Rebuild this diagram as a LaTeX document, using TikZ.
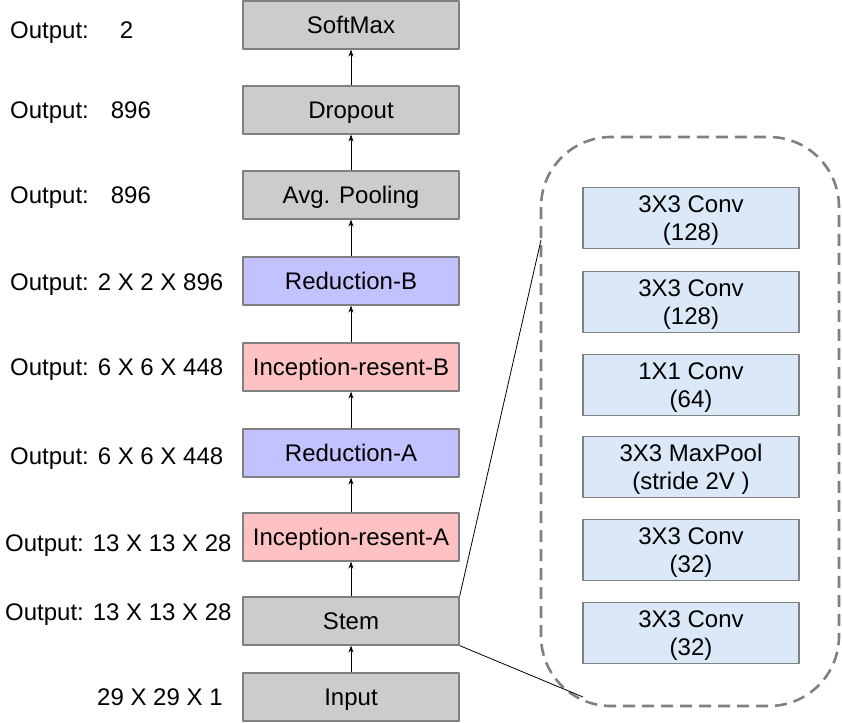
\documentclass[tikz,border=0pt]{standalone}
\usepackage{fontspec}
\setmainfont{Liberation Sans}
\usetikzlibrary{arrows.meta}
\definecolor{blkgray}{RGB}{204,204,204}
\definecolor{redblue}{RGB}{194,194,255}
\definecolor{incpink}{RGB}{255,194,194}
\definecolor{convblue}{RGB}{218,232,248}
\definecolor{edgegray}{RGB}{128,128,128}
\begin{document}
\begin{tikzpicture}[x=1pt, y=-1pt, font=\fontsize{24}{28}\selectfont, line join=round, >={Stealth[length=7pt,width=5pt]},
		layer/.style={draw=edgegray, line width=1.2pt, minimum width=216pt, minimum height=48pt, inner sep=0pt, text height=17pt, text depth=0pt},
		inner/.style={layer, fill=convblue, minimum height=61pt, align=center, text height=, text depth=0pt},
		lbl/.style={anchor=west, inner sep=0pt, text height=17pt, text depth=0pt}]
			\useasboundingbox (0,0) rectangle (842,722);
			\def\colx{351}
			\def\subx{691}
			% main column
			\node[layer, fill=blkgray] (softmax) at (\colx,25) {SoftMax};
			\node[layer, fill=blkgray] (dropout) at (\colx,110) {Dropout};
			\node[layer, fill=blkgray] (avgpool) at (\colx,195) {Avg. Pooling};
			\node[layer, fill=redblue] (redB) at (\colx,281) {Reduction-B};
			\node[layer, fill=incpink] (incB) at (\colx,367) {Inception-resent-B};
			\node[layer, fill=redblue] (redA) at (\colx,453) {Reduction-A};
			\node[layer, fill=incpink] (incA) at (\colx,537) {Inception-resent-A};
			\node[layer, fill=blkgray] (stem) at (\colx,621) {Stem};
			\node[layer, fill=blkgray] (inp) at (\colx,697) {Input};
			\foreach \a/\b in {inp/stem, stem/incA, incA/redA, redA/incB, incB/redB, redB/avgpool, avgpool/dropout, dropout/softmax} {
				\draw[->, line width=0.8pt] (\a.north) -- (\b.south);
			}
			% output sizes
			\node[lbl] (oSoft) at (10,30) {Output:\hspace{31pt}2};
			\node[lbl] (oDrop) at (10,110) {Output:\hspace{22pt}896};
			\node[lbl] (oAvg) at (10,195) {Output:\hspace{22pt}896};
			\node[lbl] (oRedB) at (10,282) {Output: 2 X 2 X 896};
			\node[lbl] (oIncB) at (10,367) {Output: 6 X 6 X 448};
			\node[lbl] (oRedA) at (10,456) {Output: 6 X 6 X 448};
			\node[lbl] (oIncA) at (5,543) {Output: 13 X 13 X 28};
			\node[lbl] (oStem) at (5,612) {Output: 13 X 13 X 28};
			\node[lbl] (oInp) at (97,697) {29 X 29 X 1};
			% stem detail
			\draw[edgegray, line width=2.6pt, dash pattern=on 12pt off 7pt, rounded corners=70pt] (541,137) rectangle (839,706);
			\node[inner] (c1) at (\subx,218) {3X3 Conv\\(128)};
			\node[inner] (c2) at (\subx,302) {3X3 Conv\\(128)};
			\node[inner] (c3) at (\subx,385) {1X1 Conv\\(64)};
			\node[inner] (c4) at (\subx,467) {3X3 MaxPool\\(stride 2V )};
			\node[inner] (c5) at (\subx,550) {3X3 Conv\\(32)};
			\node[inner] (c6) at (\subx,633) {3X3 Conv\\(32)};
			\coordinate (zt) at (541,240);
			\coordinate (zb) at (583,697);
			\draw[line width=0.8pt] (stem.north east) -- (zt);
			\draw[line width=0.8pt] (stem.south east) -- (zb);
	\end{tikzpicture}
\end{document}
